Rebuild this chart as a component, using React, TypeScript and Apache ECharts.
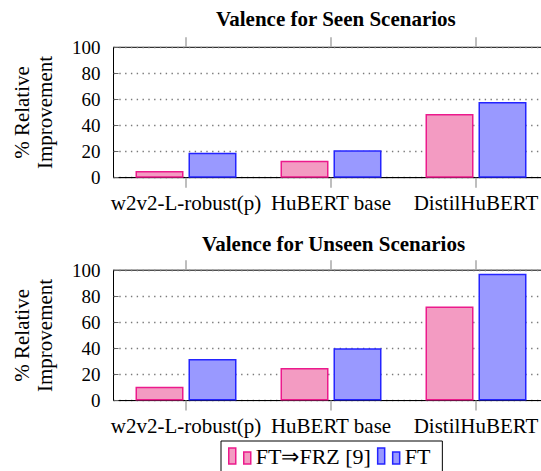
import React, { useEffect, useRef } from "react";
import * as echarts from "echarts";

const categories = ["w2v2-L-robust(p)", "HuBERT base", "DistilHuBERT"];
const seenFrz = [5.2, 13.0, 48.9];
const seenFt = [19.1, 21.0, 58.1];
const unseenFrz = [10.7, 25.0, 72.2];
const unseenFt = [31.9, 40.1, 97.2];
const yTicks = [0, 20, 40, 60, 80, 100];
const titles = ["Valence for Seen Scenarios", "Valence for Unseen Scenarios"];
const seriesNames = ["FT\u21D2FRZ [9]", "FT"];

const FONT = "Liberation Serif";
const PINK_FILL = "#f39bc2";
const PINK_EDGE = "#ec1a8c";
const BLUE_FILL = "#9999ff";
const BLUE_EDGE = "#2424ff";
const ICON = "path://M0,0 H7 V16 H0 Z M15,4 H22 V16 H15 Z";

export default function App() {
  const ref = useRef<HTMLDivElement>(null);
  useEffect(() => {
    if (!ref.current) return;
    const chart = echarts.init(ref.current, undefined, { renderer: "svg" });
    const axisData = [...categories, ""];
    const grids = [
      { left: 113.5, top: 47.3, width: 580, height: 130.4 },
      { left: 113.5, top: 270.2, width: 580, height: 130.4 },
    ];
    const xAxes: any[] = [];
    const yAxes: any[] = [];
    grids.forEach((_, i) => {
      xAxes.push({
        type: "category",
        gridIndex: i,
        data: axisData,
        position: "bottom",
        axisLine: { show: true, lineStyle: { color: "#000", width: 1 } },
        axisTick: { show: true, interval: 0, alignWithLabel: true, length: 10, lineStyle: { color: "#a8a8a8", width: 1.5 } },
        axisLabel: { interval: 0, hideOverlap: false, margin: 15, color: "#000", fontSize: 21, fontFamily: FONT },
        splitLine: { show: false },
      });
      xAxes.push({
        type: "category",
        gridIndex: i,
        data: axisData,
        position: "top",
        axisLine: { show: false },
        axisTick: { show: true, interval: 0, alignWithLabel: true, length: 10, lineStyle: { color: "#a8a8a8", width: 1.5 } },
        axisLabel: { show: false, interval: 0 },
        splitLine: { show: false },
      });
      yAxes.push({
        type: "value",
        gridIndex: i,
        min: 0,
        max: 100,
        interval: 20,
        name: "% Relative\nImprovement",
        nameLocation: "middle",
        nameRotate: 90,
        nameGap: 57,
        nameTextStyle: { color: "#000", fontSize: 21, fontFamily: FONT, lineHeight: 23 },
        axisLine: { show: true, lineStyle: { color: "#000", width: 1 } },
        axisTick: { show: true, inside: true, length: 5, lineStyle: { color: "#666" } },
        axisLabel: {
          color: "#000",
          fontSize: 19,
          fontFamily: FONT,
          margin: 13,
          customValues: yTicks,
        },
        splitLine: { show: true, lineStyle: { color: "#7a7a7a", type: [1.4, 4.4], width: 1.3 } },
      });
    });

    const mk = (name: string, data: number[], i: number, fill: string, edge: string) => ({
      type: "bar",
      barWidth: 48,
      barGap: "10.4%",
      name,
      data,
      xAxisIndex: i * 2,
      yAxisIndex: i,
      itemStyle: { color: fill, borderColor: edge, borderWidth: 1.5 },
    });

    chart.setOption({
      animation: false,
      backgroundColor: "#fff",
      title: [
        { text: titles[0], left: 211, top: 3, textStyle: { fontFamily: FONT, fontSize: 21, fontWeight: "bold", color: "#000" } },
        { text: titles[1], left: 197, top: 228, textStyle: { fontFamily: FONT, fontSize: 21, fontWeight: "bold", color: "#000" } },
      ],
      grid: grids.map((g) => ({ ...g, show: true, borderColor: "#000", borderWidth: 1, backgroundColor: "transparent" })),
      xAxis: xAxes,
      yAxis: yAxes,
      legend: {
        left: 221,
        top: 441,
        orient: "horizontal",
        padding: [4, 12, 8, 7],
        borderColor: "#000",
        borderWidth: 1,
        itemGap: 6,
        itemWidth: 22,
        itemHeight: 16,
        textStyle: { fontFamily: FONT, fontSize: 22, color: "#000" },
        data: [
          { name: seriesNames[0], icon: ICON, itemStyle: { color: PINK_FILL, borderColor: PINK_EDGE, borderWidth: 1.5 } },
          { name: seriesNames[1], icon: ICON, itemStyle: { color: BLUE_FILL, borderColor: BLUE_EDGE, borderWidth: 1.5 } },
        ],
      },
      series: [
        mk(seriesNames[0], seenFrz, 0, PINK_FILL, PINK_EDGE),
        mk(seriesNames[1], seenFt, 0, BLUE_FILL, BLUE_EDGE),
        mk(seriesNames[0], unseenFrz, 1, PINK_FILL, PINK_EDGE),
        mk(seriesNames[1], unseenFt, 1, BLUE_FILL, BLUE_EDGE),
      ],
    });
    return () => chart.dispose();
  }, []);
  return (
    <div style={{ position: "fixed", left: 0, top: 0, width: 541, height: 471, overflow: "hidden", background: "#fff" }}>
      <div ref={ref} style={{ position: "absolute", left: 0, top: 0, width: 720, height: 471 }} />
    </div>
  );
}
